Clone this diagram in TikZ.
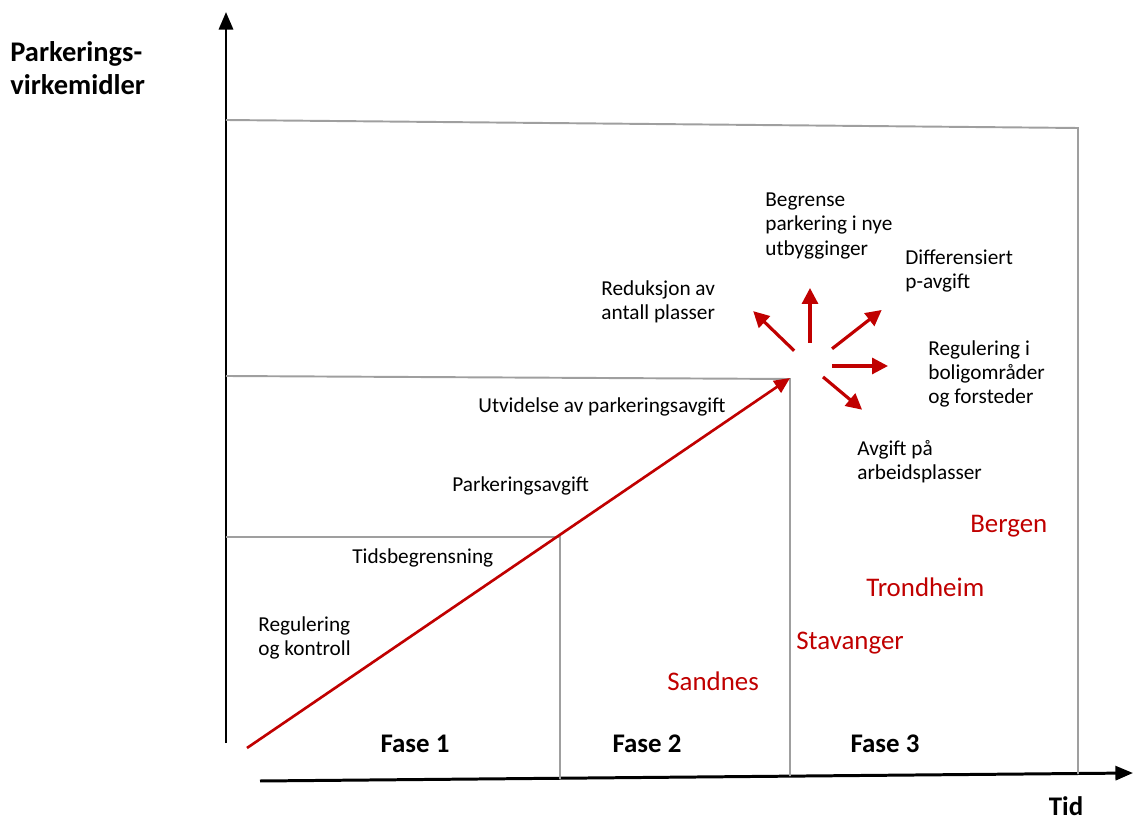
\documentclass[tikz,border=0pt]{standalone}
\usepackage{fontspec}
\setmainfont{Carlito}
\usetikzlibrary{arrows.meta}
\definecolor{pred}{HTML}{C00000}

\begin{document}
\begin{tikzpicture}[x=0.02cm,y=-0.02cm,
  axis/.style={line width=1.7pt,-{Triangle[length=10pt,width=8pt]}},
  frame/.style={draw=gray!75,line width=1.1pt},
  trend/.style={draw=pred,line width=1.5pt,-{Triangle[length=9pt,width=8pt]}},
  spoke/.style={draw=pred,line width=1.8pt,-{Triangle[length=9pt,width=9pt]}},
  lbl/.style={anchor=west,align=left,inner sep=0pt,font=\fontsize{12.1}{13.8}\selectfont},
  city/.style={anchor=west,inner sep=0pt,text=pred,font=\fontsize{15.3}{18}\selectfont},
  fase/.style={inner sep=0pt,font=\bfseries\fontsize{15.3}{18}\selectfont}]
\useasboundingbox (0,0) rectangle (1133,820);

% akser
\coordinate (yfoot) at (226,743);
\coordinate (ytop) at (226,12);
\coordinate (xfoot) at (260,781);
\coordinate (xtip) at (1133,773);
\draw[axis] (yfoot) -- (ytop);
\draw[axis] (xfoot) -- (xtip);
\node[fase,align=left,anchor=west,font=\bfseries\fontsize{16.2}{18.7}\selectfont] (yname) at (10,68) {Parkerings-\\virkemidler};
\node[fase] (xname) at (1066,806) {Tid};

% faser
\coordinate (top0) at (226,120);
\coordinate (top1) at (1078,128);
\coordinate (top2) at (1078,774);
\coordinate (mid0) at (226,376);
\coordinate (mid1) at (790,379);
\coordinate (mid2) at (790,776);
\coordinate (low0) at (226,537);
\coordinate (low1) at (560,537);
\coordinate (low2) at (560,779);
\draw[frame] (top0) -- (top1) -- (top2);
\draw[frame] (mid0) -- (mid1) -- (mid2);
\draw[frame] (low0) -- (low1) -- (low2);
\node[fase] (fase1) at (415,744) {Fase 1};
\node[fase] (fase2) at (647,744) {Fase 2};
\node[fase] (fase3) at (885,744) {Fase 3};

% utvikling
\coordinate (start) at (247,748);
\coordinate (peak) at (790,378);
\coordinate (hub) at (810,366);
\draw[trend] (start) -- (peak);
\foreach \ang/\r/\len in {-90/23/55, -136/22/57, -38/28/63, 0/22/56, 40/17/51}
  \draw[spoke] (hub) ++(\ang:\r) -- ++(\ang:\len);

\node[lbl] (regkon) at (258,638) {Regulering\\og kontroll};
\node[lbl] (tids) at (352,558) {Tidsbegrensning};
\node[lbl] (pavg) at (452,486) {Parkeringsavgift};
\node[lbl] (utvid) at (478,407) {Utvidelse av parkeringsavgift};
\node[lbl] (reduk) at (601,302) {Reduksjon av\\antall plasser};
\node[lbl] (begr) at (765,226) {Begrense\\parkering i nye\\utbygginger};
\node[lbl] (diff) at (905,271) {Differensiert\\p-avgift};
\node[lbl] (bolig) at (928,374) {Regulering i\\boligområder\\og forsteder};
\node[lbl] (arb) at (857,462) {Avgift på\\arbeidsplasser};

% byer
\node[city] (bergen) at (970,526) {Bergen};
\node[city] (trondheim) at (866,587) {Trondheim};
\node[city] (stavanger) at (796,643) {Stavanger};
\node[city] (sandnes) at (667,681) {Sandnes};
\end{tikzpicture}
\end{document}
